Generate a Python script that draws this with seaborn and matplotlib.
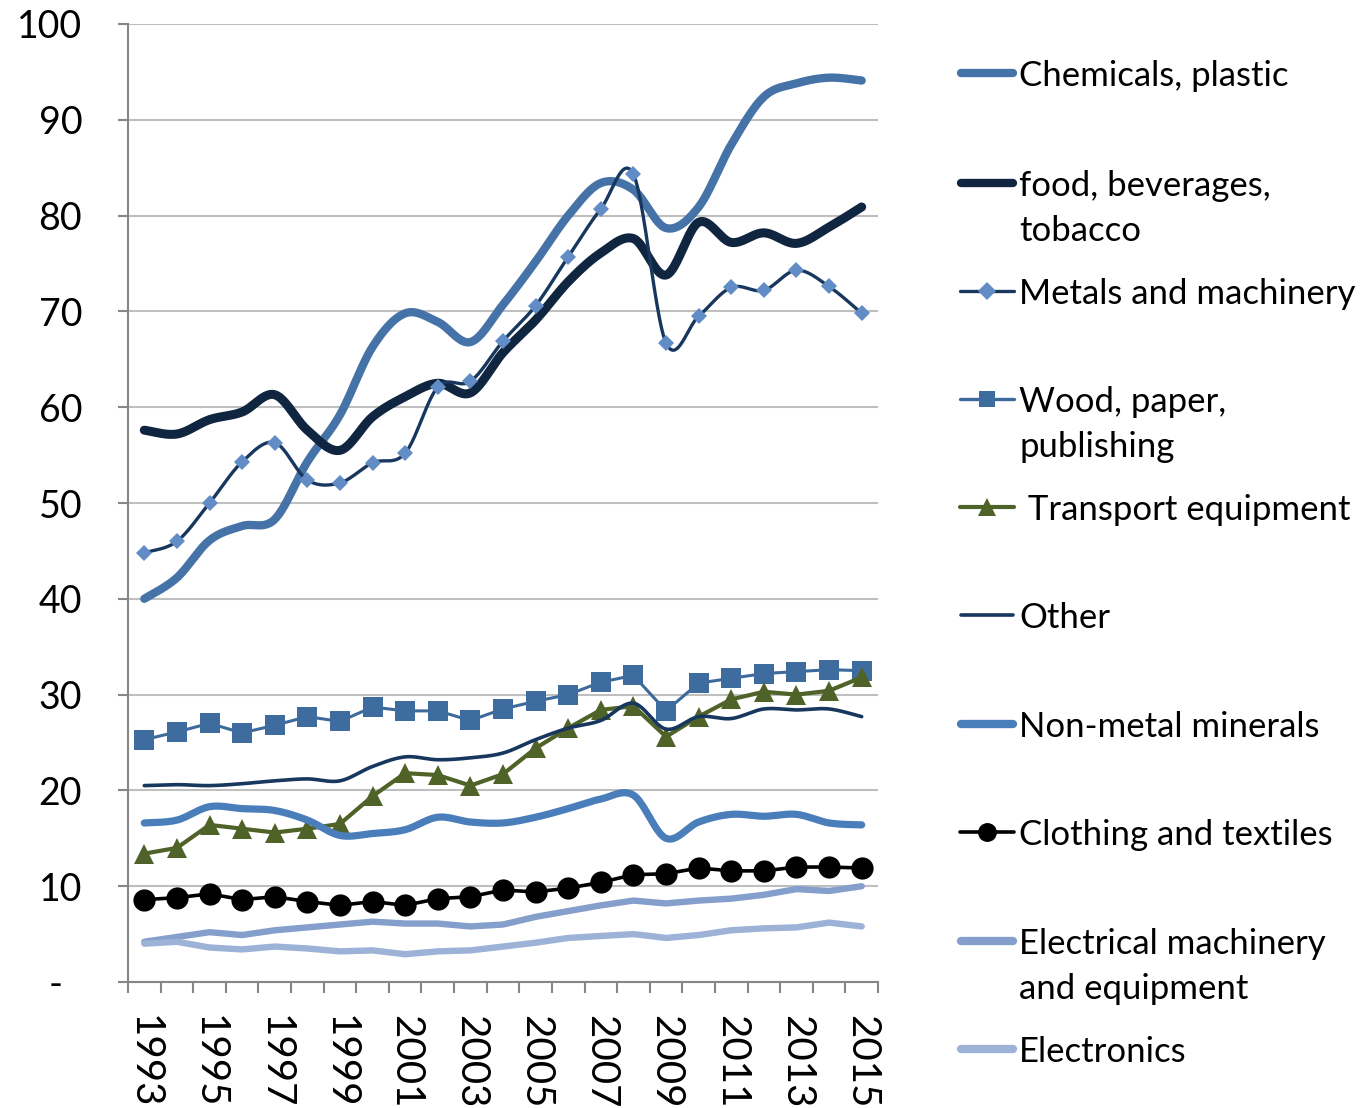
import numpy as np
import pandas as pd
import matplotlib
matplotlib.use("Agg")
import matplotlib.pyplot as plt
from matplotlib.lines import Line2D
from matplotlib.ticker import FixedLocator, NullFormatter
import seaborn as sns

years = list(range(1993, 2016))

chemicals = [40.0, 42.2, 46.1, 47.6, 48.3, 54.3, 59.2, 66.3, 69.8, 68.9, 66.8, 70.7,
             75.2, 80.0, 83.4, 82.7, 78.7, 80.9, 87.4, 92.4, 93.8, 94.4, 94.1]
food = [57.6, 57.2, 58.7, 59.5, 61.3, 57.6, 55.5, 59.0, 61.1, 62.5, 61.5, 65.7,
        69.1, 73.1, 76.1, 77.6, 73.8, 79.3, 77.2, 78.2, 77.1, 78.8, 80.9]
metals = [44.8, 46.0, 50.0, 54.3, 56.3, 52.4, 52.1, 54.2, 55.2, 62.1, 62.7, 66.9,
          70.6, 75.7, 80.7, 84.3, 66.7, 69.5, 72.5, 72.2, 74.3, 72.6, 69.8]
wood = [25.3, 26.1, 27.0, 26.0, 26.8, 27.7, 27.2, 28.7, 28.3, 28.3, 27.3, 28.5,
        29.3, 30.0, 31.3, 32.0, 28.3, 31.2, 31.7, 32.2, 32.4, 32.6, 32.5]
transport = [13.4, 14.0, 16.4, 16.0, 15.6, 16.0, 16.5, 19.4, 21.8, 21.6, 20.5, 21.7,
             24.4, 26.5, 28.4, 28.8, 25.6, 27.7, 29.5, 30.3, 30.0, 30.4, 31.8]
other = [20.5, 20.6, 20.5, 20.7, 21.0, 21.2, 21.0, 22.5, 23.5, 23.2, 23.4, 23.9,
         25.3, 26.5, 27.3, 29.1, 26.4, 27.7, 27.5, 28.5, 28.4, 28.5, 27.7]
nonmetal = [16.6, 16.9, 18.3, 18.1, 17.9, 16.9, 15.3, 15.5, 15.9, 17.2, 16.7, 16.6,
            17.2, 18.1, 19.1, 19.5, 15.0, 16.7, 17.5, 17.3, 17.5, 16.6, 16.4]
clothing = [8.6, 8.8, 9.2, 8.6, 8.9, 8.4, 8.0, 8.4, 8.0, 8.7, 8.9, 9.6,
            9.4, 9.8, 10.4, 11.2, 11.3, 11.9, 11.6, 11.6, 12.0, 12.0, 11.9]
electrical = [4.2, 4.7, 5.2, 4.9, 5.4, 5.7, 6.0, 6.3, 6.1, 6.1, 5.8, 6.0,
              6.8, 7.4, 8.0, 8.5, 8.2, 8.5, 8.7, 9.1, 9.7, 9.5, 10.0]
electronics = [4.0, 4.2, 3.6, 3.4, 3.7, 3.5, 3.2, 3.3, 2.9, 3.2, 3.3, 3.7,
               4.1, 4.6, 4.8, 5.0, 4.6, 4.9, 5.4, 5.6, 5.7, 6.2, 5.8]

labels = ["Chemicals, plastic", "food, beverages,\ntobacco", "Metals and machinery",
          "Wood, paper,\npublishing", " Transport equipment", "Other",
          "Non-metal minerals", "Clothing and textiles",
          "Electrical machinery\nand equipment", "Electronics"]
series = [chemicals, food, metals, wood, transport, other, nonmetal, clothing,
          electrical, electronics]
ytick_vals = list(range(0, 101, 10))
ytick_labels = ["-  "] + [str(v) for v in range(10, 101, 10)]
xtick_labels = [str(y) for y in range(1993, 2016, 2)]

# style: color, linewidth(pt), smooth, marker, markersize, marker color
styles = [
    dict(color="#4573A8", lw=6.0, smooth=True, marker=None),
    dict(color="#10253F", lw=6.5, smooth=True, marker=None),
    dict(color="#17375E", lw=2.4, smooth=True, marker="D", ms=8, mc="#628CC6"),
    dict(color="#3C6A9C", lw=2.2, smooth=False, marker="s", ms=14, mc="#3F6C9E"),
    dict(color="#4F6228", lw=3.0, smooth=False, marker="^", ms=15, mc="#4F6228"),
    dict(color="#17375E", lw=2.6, smooth=True, marker=None),
    dict(color="#4A7EBB", lw=5.2, smooth=True, marker=None),
    dict(color="#000000", lw=2.6, smooth=False, marker="o", ms=16, mc="#000000"),
    dict(color="#849FCB", lw=4.6, smooth=False, marker=None),
    dict(color="#9DB2D7", lw=4.6, smooth=False, marker=None),
]


def catmull_rom(x, y, n=24):
    P = np.column_stack([np.asarray(x, float), np.asarray(y, float)])
    ext = np.vstack([P[0], P, P[-1]])
    out = []
    t = np.linspace(0, 1, n, endpoint=False)[:, None]
    for i in range(1, len(ext) - 2):
        p0, p1, p2, p3 = ext[i - 1], ext[i], ext[i + 1], ext[i + 2]
        seg = 0.5 * (2 * p1 + (-p0 + p2) * t + (2 * p0 - 5 * p1 + 4 * p2 - p3) * t ** 2
                     + (-p0 + 3 * p1 - 3 * p2 + p3) * t ** 3)
        out.append(seg)
    out.append(P[-1:])
    return np.vstack(out)


sns.set_theme(style="white")
FONT = ["Lato", "DejaVu Sans"]
plt.rcParams["font.family"] = FONT

W, H = 1364, 1108
fig = plt.figure(figsize=(W / 100, H / 100), dpi=100)
ax = fig.add_axes([128 / W, 1 - 982 / H, 750 / W, 958 / H])

for i, (vals, st) in enumerate(zip(series, styles)):
    z = 3 + i
    if st["smooth"]:
        pts = catmull_rom(years, vals)
        df = pd.DataFrame({"x": pts[:, 0], "y": pts[:, 1]})
    else:
        df = pd.DataFrame({"x": years, "y": vals})
    sns.lineplot(data=df, x="x", y="y", sort=False, estimator=None, ax=ax,
                 color=st["color"], linewidth=st["lw"], zorder=z,
                 solid_capstyle="round", solid_joinstyle="round")
    if st["marker"]:
        dfm = pd.DataFrame({"x": years, "y": vals})
        sns.lineplot(data=dfm, x="x", y="y", ax=ax, linestyle="none", sort=False,
                     estimator=None, marker=st["marker"], markersize=st["ms"],
                     markerfacecolor=st["mc"], markeredgecolor=st["mc"],
                     markeredgewidth=0, zorder=z + 0.5)

ax.set_xlim(1992.5, 2015.5)
ax.set_ylim(0, 100)
ax.set_xlabel("")
ax.set_ylabel("")

grid_c = "#BFBFBF"
axis_c = "#868686"
ax.set_yticks(ytick_vals)
ax.set_yticklabels(ytick_labels)
ax.yaxis.grid(True, color=grid_c, linewidth=1.5)
ax.set_axisbelow(True)
ax.xaxis.set_major_locator(FixedLocator(np.arange(1992.5, 2016, 1.0)))
ax.xaxis.set_major_formatter(NullFormatter())
ax.xaxis.set_minor_locator(FixedLocator(list(range(1993, 2016, 2))))
ax.set_xticklabels(xtick_labels, minor=True)

for s in ["top", "right"]:
    ax.spines[s].set_visible(False)
for s in ["left", "bottom"]:
    ax.spines[s].set_color(axis_c)
    ax.spines[s].set_linewidth(1.5)

ax.tick_params(axis="y", which="major", direction="out", length=7, width=1.5,
               color=axis_c, labelsize=27, pad=26, left=True, labelcolor="black")
ax.tick_params(axis="x", which="major", direction="out", length=8, width=1.5,
               color=axis_c, bottom=True)
ax.tick_params(axis="x", which="minor", length=0, labelsize=29, pad=24,
               labelrotation=-90, labelcolor="black")
for lab in ax.get_xticklabels(minor=True):
    lab.set_va("top")
    lab.set_ha("center")

# manual legend (figure pixel coordinates)
leg_y = [73, 183, 291, 399, 507, 615, 724, 832, 941, 1049]
line_gap = 45
for lab, st, yc in zip(labels, styles, leg_y):
    yf = 1 - yc / H
    x0, x1 = 960 / W, 1014 / W
    if st["marker"]:
        fig.add_artist(Line2D([x0, x1], [yf, yf], transform=fig.transFigure,
                              color=st["color"], lw=max(st["lw"], 2.4)))
        fig.add_artist(Line2D([(x0 + x1) / 2], [yf], transform=fig.transFigure,
                              linestyle="none", marker=st["marker"],
                              markersize=st["ms"] * (0.85 if st["marker"] != "D" else 1.1),
                              markerfacecolor=st["mc"], markeredgewidth=0))
    else:
        lw = 6.0 if st["lw"] > 3 else 2.6
        fig.add_artist(Line2D([961 / W, 1013 / W], [yf, yf], transform=fig.transFigure,
                              color=st["color"], lw=lw, solid_capstyle="round"))
    for j, line in enumerate(lab.split("\n")):
        fig.text(1019 / W, 1 - (yc + 13 + j * line_gap) / H, line, fontsize=25,
                 ha="left", va="baseline", color="black", family=FONT)

fig.savefig("out.png", dpi=100, facecolor="white")
